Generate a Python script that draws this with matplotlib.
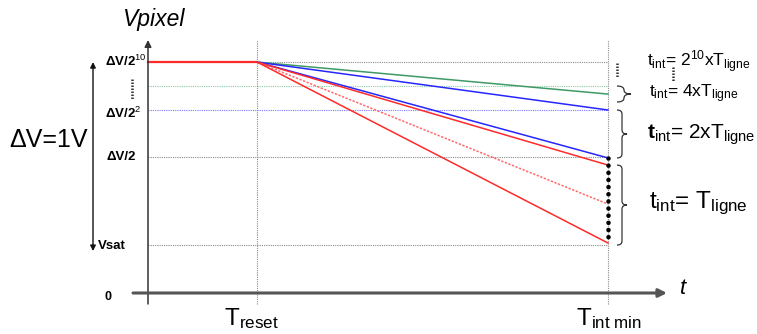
import numpy as np
import matplotlib
matplotlib.use("Agg")
import matplotlib.pyplot as plt
from matplotlib.path import Path
from matplotlib.patches import PathPatch

plt.rcParams['font.family'] = ['Liberation Sans', 'DejaVu Sans']
plt.rcParams['mathtext.fontset'] = 'custom'
plt.rcParams['mathtext.rm'] = 'Liberation Sans'
plt.rcParams['mathtext.it'] = 'Liberation Sans:italic'
plt.rcParams['mathtext.bf'] = 'Liberation Sans:bold'

# schematic units: t = 0 at T_reset, t = 1 at T_int min ; voltage in V
t_reset = 0.0
t_int_min = 1.0
v_reset = 1.262

level_labels = [r"ΔV/2$^{10}$", r"ΔV/2$^{2}$", "ΔV/2", "Vsat"]
level_values = [1.262, 1.0, 0.743, 0.262]

grid_values = [1.262, 1.131, 1.0, 0.743, 0.262]
grid_colors = ["#8a8a8a", "#8cc9a4", "#7878ff", "#8a8a8a", "#8a8a8a"]

ramp_ends = [1.087, 1.0, 0.738, 0.699, 0.486, 0.273]
ramp_colors = ["#3f9a66", "#2626ff", "#2626ff", "#ff2a2a", "#ff6a6a", "#ff2a2a"]
ramp_styles = ["-", "-", "-", "-", (0, (1.5, 1)), "-"]

tint_labels = [r"t$_\mathregular{int}$= 2$^\mathregular{10}$xT$_\mathregular{ligne}$",
               r"t$_\mathregular{int}$= 4xT$_\mathregular{ligne}$",
               r"$\mathbf{t}_\mathregular{int}$= 2xT$_\mathregular{ligne}$",
               r"t$_\mathregular{int}$= T$_\mathregular{ligne}$"]


# layout helpers: figure pixel -> schematic units
def tx(px):
    return (px - 257) / 351.0


def vy(py):
    return (293 - py) / 183.0


def brace(ax, x0, top, bot, w, r=4 / 183.0):
    xm = x0 + w / 2
    mid = (top + bot) / 2
    verts = [(x0, top), (xm, top), (xm, top - r),
             (xm, mid + r), (xm, mid), (x0 + w, mid),
             (xm, mid), (xm, mid - r),
             (xm, bot + r), (xm, bot), (x0, bot)]
    codes = [Path.MOVETO, Path.CURVE3, Path.CURVE3,
             Path.LINETO, Path.CURVE3, Path.CURVE3,
             Path.CURVE3, Path.CURVE3,
             Path.LINETO, Path.CURVE3, Path.CURVE3]
    ax.add_patch(PathPatch(Path(verts, codes), fill=False, lw=0.9, ec="#333333"))


fig = plt.figure(figsize=(7.57, 3.34), dpi=100)
ax = fig.add_axes([0, 0, 1, 1])
ax.set_xlim(tx(0), tx(757))
ax.set_ylim(vy(334), vy(0))
ax.axis("off")

y_axis_x = tx(148)

# dotted guide lines
ax.hlines(grid_values, y_axis_x, t_int_min, colors=grid_colors,
          linestyles=(0, (1, 1)), lw=0.8)
ax.vlines([t_reset, t_int_min], vy(304), vy(40), colors="#8a8a8a",
          linestyles=(0, (1, 1)), lw=0.8)

# axes
ax.annotate("", xy=(y_axis_x, vy(40)), xytext=(y_axis_x, vy(304)),
            arrowprops=dict(arrowstyle="-|>", color="#333333", lw=1.1,
                            mutation_scale=10, shrinkA=0, shrinkB=0))
ax.annotate("", xy=(tx(667), 0), xytext=(tx(133), 0),
            arrowprops=dict(arrowstyle="-|>", color="#555555", lw=2.2,
                            mutation_scale=12, shrinkA=0, shrinkB=0))
ax.annotate("", xy=(tx(93), level_values[-1] - 6 / 183.0), xytext=(tx(93), v_reset),
            arrowprops=dict(arrowstyle="<|-|>", color="#111111", lw=1.0,
                            mutation_scale=8, shrinkA=0, shrinkB=0))

# pixel voltage: flat until reset, then ramps
ax.plot([y_axis_x, t_reset], [v_reset, v_reset], color="#ff2a2a", lw=1.6)
for end, c, ls in zip(ramp_ends, ramp_colors, ramp_styles):
    ax.plot([t_reset, t_int_min], [v_reset, end], color=c, ls=ls, lw=1.1)

# saturation dots at T_int min
ax.plot([t_int_min, t_int_min], [ramp_ends[2], ramp_ends[-1]], color="black",
        ls=(0, (0.01, 1.55)), lw=3.3, dash_capstyle="round")

# small dotted "..." markers
ax.plot([tx(132), tx(132)], [vy(79), vy(100)], color="#333333", ls=(0, (0.6, 0.6)), lw=1.8)
ax.plot([tx(617), tx(617)], [vy(63), vy(77)], color="#333333", ls=(0, (0.6, 0.6)), lw=1.8)
ax.plot([tx(673), tx(673)], [vy(67), vy(82)], color="#333333", ls=(0, (0.6, 0.6)), lw=1.8)

# braces
brace(ax, tx(617), grid_values[1], vy(102), tx(631) - tx(617))
brace(ax, tx(617), ramp_ends[1], ramp_ends[2], tx(627) - tx(617))
brace(ax, tx(617), ramp_ends[3], level_values[-1], tx(627) - tx(617))

# texts
ax.text(tx(153), vy(20), "Vpixel", style="italic", fontsize=16.5, ha="center", va="center")
ax.text(tx(683), vy(289), "t", style="italic", fontsize=16, ha="center", va="center")
ax.text(tx(9), vy(140), "ΔV=1V", fontsize=18, ha="left", va="center")
ax.text(tx(108), vy(297), "0", fontsize=9, fontweight="bold", ha="center", va="center")

label_x = [tx(105), tx(105), tx(106), tx(98)]
label_dy = [1 / 183.0, -3 / 183.0, 0, -1 / 183.0]
for lab, v, x, dy in zip(level_labels, level_values, label_x, label_dy):
    ax.text(x, v + dy, lab, fontsize=9.5, fontweight="bold", ha="left", va="center")

ax.text(tx(224), vy(325), r"T$_\mathregular{reset}$", fontsize=17.5, ha="left", va="baseline")
ax.text(tx(576), vy(325), r"T$_\mathregular{int\ min}$", fontsize=17.5, ha="left", va="baseline")

tint_x = [tx(647), tx(649), tx(647), tx(649)]
tint_y = [vy(62), vy(94), vy(135), vy(203)]
tint_size = [12.5, 12.5, 15, 17.5]
for lab, x, y, fs in zip(tint_labels, tint_x, tint_y, tint_size):
    ax.text(x, y, lab, fontsize=fs, ha="left", va="center")

fig.savefig("out.png", dpi=100)
